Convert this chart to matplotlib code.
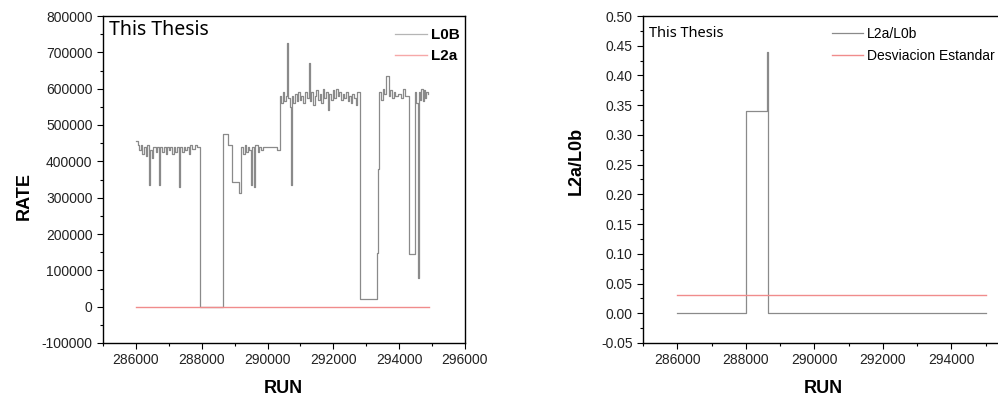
import matplotlib.pyplot as plt
from matplotlib.ticker import MultipleLocator

# L0B rate per run (step values)
l0b_runs = [
    286000, 286050, 286100, 286150, 286200, 286250, 286300, 286350, 286400, 286430,
    286480, 286530, 286600, 286650, 286700, 286730, 286800, 286850, 286900, 286950,
    287000, 287050, 287100, 287150, 287200, 287250, 287300, 287330, 287400, 287450,
    287500, 287550, 287600, 287650, 287700, 287800, 287850, 287950, 288650, 288800,
    288920, 289130, 289200, 289250, 289300, 289350, 289400, 289450, 289500, 289530,
    289600, 289630, 289700, 289750, 289800, 289850, 290300, 290380, 290420, 290460,
    290500, 290550, 290580, 290620, 290680, 290700, 290730, 290780, 290830, 290880,
    290930, 290980, 291030, 291080, 291130, 291200, 291250, 291280, 291330, 291380,
    291430, 291480, 291530, 291580, 291630, 291680, 291730, 291780, 291830, 291880,
    291930, 291980, 292030, 292080, 292130, 292180, 292230, 292280, 292330, 292380,
    292430, 292480, 292530, 292580, 292630, 292680, 292730, 292800, 293340, 293370,
    293400, 293450, 293500, 293550, 293600, 293680, 293730, 293780, 293830, 293880,
    293950, 294050, 294120, 294180, 294300, 294480, 294520, 294560, 294590, 294630,
    294670, 294710, 294750, 294790, 294830, 294880,
]
l0b_rate = [
    455000, 445000, 430000, 445000, 420000, 440000, 415000, 445000, 335000, 430000,
    410000, 440000, 425000, 440000, 335000, 440000, 425000, 440000, 420000, 440000,
    430000, 440000, 420000, 440000, 425000, 440000, 330000, 440000, 425000, 440000,
    430000, 440000, 420000, 445000, 435000, 445000, 440000, 0, 476000, 446000,
    342000, 313000, 440000, 420000, 445000, 425000, 440000, 430000, 335000, 440000,
    330000, 445000, 425000, 440000, 430000, 440000, 430000, 580000, 560000, 590000,
    565000, 580000, 727000, 575000, 550000, 336000, 580000, 560000, 585000, 565000,
    590000, 570000, 580000, 560000, 590000, 575000, 672000, 565000, 590000, 555000,
    580000, 595000, 570000, 585000, 560000, 600000, 575000, 590000, 540000, 585000,
    570000, 595000, 575000, 600000, 580000, 590000, 570000, 585000, 575000, 590000,
    565000, 580000, 560000, 585000, 575000, 555000, 590000, 20000, 148000, 378000,
    590000, 570000, 600000, 585000, 635000, 580000, 595000, 575000, 590000, 580000,
    585000, 575000, 600000, 580000, 145000, 590000, 560000, 80000, 590000, 570000,
    600000, 565000, 595000, 575000, 590000, 585000,
]

# L2a rate (flat at zero)
l2a_runs = [286000, 294900]
l2a_rate = [0, 0]

# ratio L2a/L0b and its standard deviation
ratio_runs = [286000, 288000, 288630, 288640, 295000]
ratio_vals = [0.0, 0.34, 0.44, 0.0, 0.0]
std_runs = [286000, 295000]
std_vals = [0.031, 0.031]

plt.rcParams["font.family"] = ["Liberation Sans", "DejaVu Sans"]
plt.rcParams["axes.unicode_minus"] = False

fig = plt.figure(figsize=(9.98, 4.0), dpi=100)
ax1 = fig.add_axes([103 / 998, 57 / 400, 362 / 998, 327 / 400])
ax2 = fig.add_axes([643 / 998, 57 / 400, 377 / 998, 327 / 400])

gray = "#8a8a8a"
red = "#f08c8c"

ax1.plot(l0b_runs, l0b_rate, color=gray, lw=0.9, drawstyle="steps-post", label="L0B")
ax1.plot(l2a_runs, l2a_rate, color=red, lw=1.0, label="L2a", zorder=3)
ax1.set_xlim(285000, 296000)
ax1.set_ylim(-100000, 800000)
ax1.xaxis.set_major_locator(MultipleLocator(2000))
ax1.xaxis.set_minor_locator(MultipleLocator(1000))
ax1.yaxis.set_major_locator(MultipleLocator(100000))
ax1.yaxis.set_minor_locator(MultipleLocator(50000))
ax1.set_xlabel("RUN", fontsize=13, fontweight="bold")
ax1.set_ylabel("RATE", fontsize=13, fontweight="bold")
ax1.xaxis.set_label_coords(0.497, -0.112)
ax1.yaxis.set_label_coords(-0.193, 0.45)
ax1.text(0.017, 0.988, "This Thesis", transform=ax1.transAxes, fontsize=14,
         family=["Noto Sans", "DejaVu Sans"], va="top", ha="left")
leg1 = ax1.legend(loc="upper left", bbox_to_anchor=(0.768, 1.005), frameon=False,
                  handlelength=2.1, handletextpad=0.3, labelspacing=0.45,
                  prop={"size": 11, "weight": "bold"})
for h in leg1.get_lines():
    h.set_color("#b5b5b5" if h.get_label() == "L0B" else "#f6a8a8")

ax2.plot(ratio_runs, ratio_vals, color=gray, lw=0.9, drawstyle="steps-post", label="L2a/L0b")
ax2.plot(std_runs, std_vals, color=red, lw=1.0, label="Desviacion Estandar")
ax2.set_xlim(285000, 296000)
ax2.set_ylim(-0.05, 0.50)
ax2.set_xticks(range(286000, 295000, 2000))
ax2.xaxis.set_minor_locator(MultipleLocator(1000))
ax2.yaxis.set_major_locator(MultipleLocator(0.05))
ax2.yaxis.set_minor_locator(MultipleLocator(0.025))
ax2.yaxis.set_major_formatter(plt.FormatStrFormatter("%.2f"))
ax2.set_xlabel("RUN", fontsize=13, fontweight="bold")
ax2.set_ylabel("L2a/L0b", fontsize=13, fontweight="bold")
ax2.xaxis.set_label_coords(0.477, -0.112)
ax2.yaxis.set_label_coords(-0.154, 0.557)
ax2.text(0.017, 0.97, "This Thesis", transform=ax2.transAxes, fontsize=10.5,
         family=["Noto Sans", "DejaVu Sans"], va="top", ha="left")
ax2.legend(loc="upper left", bbox_to_anchor=(0.469, 1.005), frameon=False,
           handlelength=2.2, handletextpad=0.3, labelspacing=0.6,
           prop={"size": 10})

for ax in (ax1, ax2):
    ax.tick_params(which="major", direction="out", length=4, width=0.8,
                   labelsize=10, labelcolor="#222222")
    ax.tick_params(which="minor", direction="out", length=2.5, width=0.8)
    for s in ax.spines.values():
        s.set_linewidth(1.0)

fig.savefig("out.png", dpi=100)
